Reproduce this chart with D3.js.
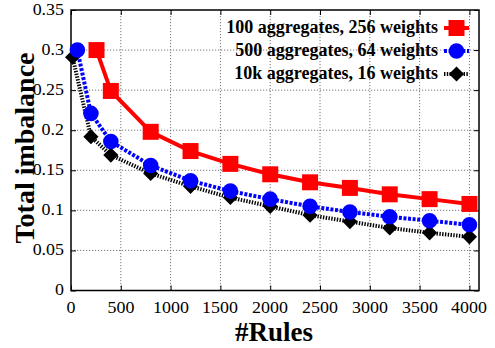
<!DOCTYPE html>
<html>
<head>
<meta charset="utf-8">
<script src="https://cdn.jsdelivr.net/npm/d3@7"></script>
<style>
  body { margin: 0; background: #fff; }
  #wrap { position: relative; width: 495px; height: 348px; }
  #wrap svg { position: absolute; left: 0; top: 0; }
  .lbl {
    position: absolute; white-space: nowrap; line-height: 1;
    font-family: "Liberation Serif", "Times New Roman", serif; color: #000;
    transform-origin: 0 0;
  }
</style>
</head>
<body>
<div id="wrap"><svg id="chart" width="495" height="348"></svg></div>
<script>
// values
const redX = [256, 400, 800, 1200, 1600, 2000, 2400, 2800, 3200, 3600, 4000];
const redY = [0.300, 0.249, 0.198, 0.174, 0.158, 0.145, 0.135, 0.128, 0.120, 0.114, 0.108];
const blueX = [64, 200, 400, 800, 1200, 1600, 2000, 2400, 2800, 3200, 3600, 4000];
const blueY = [0.300, 0.221, 0.186, 0.156, 0.137, 0.124, 0.114, 0.105, 0.098, 0.092, 0.087, 0.082];
const blackX = [16, 200, 400, 800, 1200, 1600, 2000, 2400, 2800, 3200, 3600, 4000];
const blackY = [0.291, 0.192, 0.169, 0.146, 0.130, 0.116, 0.105, 0.094, 0.086, 0.078, 0.072, 0.067];
const seriesNames = ["100 aggregates, 256 weights", "500 aggregates, 64 weights", "10k aggregates, 16 weights"];
const xTicks = [0, 500, 1000, 1500, 2000, 2500, 3000, 3500, 4000];
const yTicks = [0, 0.05, 0.1, 0.15, 0.2, 0.25, 0.3, 0.35];

const svg = d3.select("#chart");
const wrap = d3.select("#wrap");
const m = { left: 71, right: 479, top: 10, bottom: 290.5 };

const x = d3.scaleLinear().domain([0, 4096]).range([m.left, m.right]);
const y = d3.scaleLinear().domain([0, 0.35]).range([m.bottom, m.top]);

// svg text came out sans in the renderer, so text goes in html divs on top
function label(text, px, baseline, { size = 16, bold = false, anchor = "start", sx = 1 } = {}) {
  const shift = anchor === "middle" ? "-50%" : anchor === "end" ? "-100%" : "0";
  return wrap.append("div").attr("class", "lbl")
    .style("left", `${px}px`)
    .style("top", `${baseline - 0.8375 * size}px`)
    .style("font-size", `${size}px`)
    .style("font-weight", bold ? "bold" : "normal")
    .style("transform", `scaleX(${sx}) translateX(${shift})`)
    .text(text);
}

// grid
const grid = svg.append("g").attr("stroke", "#777").attr("stroke-width", 1)
  .attr("stroke-dasharray", "1.2,1.8");
grid.selectAll("line.gx").data(xTicks.slice(1)).join("line")
  .attr("x1", d => x(d)).attr("x2", d => x(d))
  .attr("y1", m.top).attr("y2", m.bottom);
grid.selectAll("line.gy").data(yTicks.slice(1, -1)).join("line")
  .attr("x1", m.left).attr("x2", m.right)
  .attr("y1", d => y(d)).attr("y2", d => y(d));

// tick marks point inward, mirrored on top / right; labels are html
const tickStyle = g => {
  g.select(".domain").remove();
  g.selectAll(".tick line").attr("stroke", "#000").attr("stroke-width", 1);
};
svg.append("g").attr("transform", `translate(0,${m.bottom})`)
  .call(d3.axisBottom(x).tickValues(xTicks).tickSize(-5).tickFormat(""))
  .call(tickStyle);
svg.append("g").attr("transform", `translate(0,${m.top})`)
  .call(d3.axisTop(x).tickValues(xTicks).tickSize(-5).tickFormat(""))
  .call(tickStyle);
svg.append("g").attr("transform", `translate(${m.left},0)`)
  .call(d3.axisLeft(y).tickValues(yTicks).tickSize(-5).tickFormat(""))
  .call(tickStyle);
svg.append("g").attr("transform", `translate(${m.right},0)`)
  .call(d3.axisRight(y).tickValues(yTicks).tickSize(-5).tickFormat(""))
  .call(tickStyle);

const fmtY = d => d === 0 ? "0" : String(+d.toFixed(2));
xTicks.forEach(t => label(String(t), x(t), 313.5, { size: 16, anchor: "middle", sx: 1.12 }));
yTicks.forEach(t => label(fmtY(t), 64, y(t) + 5, { size: 16, anchor: "end", sx: 1.12 }));

// border
svg.append("rect").attr("x", m.left).attr("y", m.top)
  .attr("width", m.right - m.left).attr("height", m.bottom - m.top)
  .attr("fill", "none").attr("stroke", "#000").attr("stroke-width", 1.5);

const series = [
  { xs: redX, ys: redY, color: "#ff0000", dash: null, shape: d3.symbolSquare, size: 256, rot: 0 },
  { xs: blueX, ys: blueY, color: "#0000ff", dash: "3,1.6", shape: d3.symbolCircle, size: 190, rot: 0 },
  { xs: blackX, ys: blackY, color: "#000000", dash: "1.4,1.4", shape: d3.symbolSquare, size: 115, rot: 45 }
];

const line = d3.line().x(d => x(d[0])).y(d => y(d[1]));

// draw back-to-front: black, blue, red
series.slice().reverse().forEach(s => {
  const pts = s.xs.map((v, i) => [v, s.ys[i]]);
  svg.append("path").datum(pts).attr("d", line)
    .attr("fill", "none").attr("stroke", s.color).attr("stroke-width", 4)
    .attr("stroke-dasharray", s.dash);
  svg.append("g").selectAll("path").data(pts).join("path")
    .attr("transform", d => `translate(${x(d[0])},${y(d[1])}) rotate(${s.rot})`)
    .attr("d", d3.symbol(s.shape, s.size))
    .attr("fill", s.color);
});

// legend
const rowY = [28, 51, 74];
series.forEach((s, i) => {
  label(seriesNames[i], 438, rowY[i] + 5.5, { size: 18, bold: true, anchor: "end" });
  const g = svg.append("g").attr("transform", `translate(0,${rowY[i]})`);
  g.append("line").attr("x1", 444).attr("x2", 469).attr("y1", 0).attr("y2", 0)
    .attr("stroke", s.color).attr("stroke-width", 4).attr("stroke-dasharray", s.dash);
  g.append("path").attr("transform", `translate(456.5,0) rotate(${s.rot})`)
    .attr("d", d3.symbol(s.shape, s.size)).attr("fill", s.color);
});

// axis titles
wrap.append("div").attr("class", "lbl")
  .style("left", "25px").style("top", "148px")
  .style("font-size", "28px").style("font-weight", "bold")
  .style("transform", "rotate(-90deg) translate(-50%, -50%)")
  .text("Total imbalance");
label("#Rules", 274, 341.5, { size: 27, bold: true, anchor: "middle" });
</script>
</body>
</html>
